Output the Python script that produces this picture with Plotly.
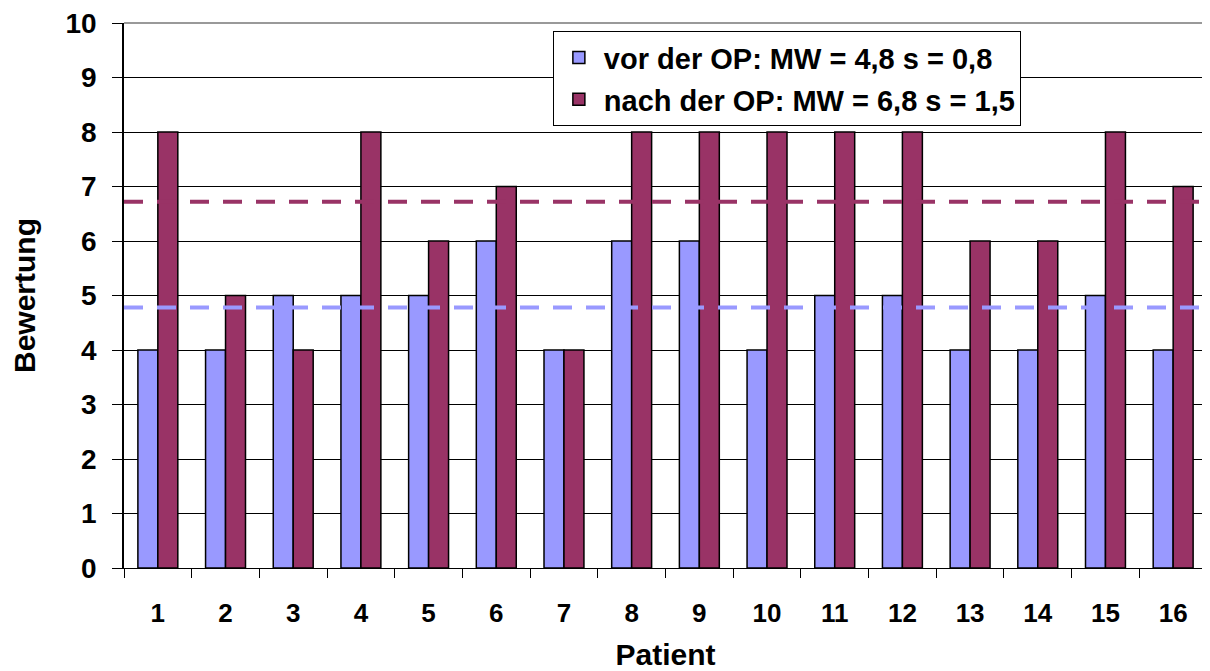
#! /usr/bin/env python3

import plotly.graph_objects as go

patients = [str(i) for i in range(1, 17)]
vorOP = [4, 4, 5, 5, 5, 6, 4, 6, 6, 4, 5, 5, 4, 4, 5, 4]
nachOP = [8, 5, 4, 8, 6, 7, 4, 8, 8, 8, 8, 8, 6, 6, 8, 7]

# Mittelwerte, wie sie im Bild als gestrichelte Linien stehen
meanVor = 4.78
meanNach = 6.72

legendNames = ["vor der OP: MW = 4,8 s = 0,8",
               "nach der OP: MW = 6,8 s = 1,5"]

blue = "#9999FF"
purple = "#993366"
font = "Liberation Sans, Arial, sans-serif"

fig = go.Figure()

fig.add_trace(go.Bar(
	x=patients,
	y=vorOP,
	name=legendNames[0],
	legendgroup="a",
	marker=dict(color=blue, line=dict(color="black", width=1.5))
	))

fig.add_trace(go.Bar(
	x=patients,
	y=nachOP,
	name=legendNames[1],
	legendgroup="b",
	marker=dict(color=purple, line=dict(color="black", width=1.5))
	))

for m, c in [(meanNach, purple), (meanVor, blue)]:
	fig.add_shape(type="line", xref="paper", x0=0, x1=1, yref="y", y0=m, y1=m,
		line=dict(color=c, width=4, dash="19px,14px"), layer="above")

# graue Kanten oben und rechts am Plotbereich
fig.add_shape(type="line", xref="paper", x0=1, x1=1, yref="paper", y0=0, y1=1,
	line=dict(color="#999999", width=2))
fig.add_shape(type="line", xref="paper", x0=0, x1=1, yref="paper", y0=1, y1=1,
	line=dict(color="#999999", width=2))

# page body has 8px margin -> sizes/margins shifted by 8
fig.update_layout(
	width=1199,
	height=663,
	margin=dict(l=116, r=0, t=15, b=103),
	plot_bgcolor="white",
	paper_bgcolor="white",
	barmode="group",
	bargap=0.41,
	bargroupgap=0,
	font=dict(family=font, color="black"),
	showlegend=True,
	legend=dict(
		x=0.396, y=0.985, xanchor="left", yanchor="top",
		bordercolor="black", borderwidth=1, bgcolor="white",
		font=dict(size=29, family=font, weight="bold"),
		tracegroupgap=1,
		itemwidth=40,
		),
	)

fig.update_xaxes(
	type="category",
	tickson="boundaries",
	ticks="outside", ticklen=9, tickcolor="black", tickwidth=1,
	showgrid=False,
	showline=True, linecolor="black", linewidth=1,
	tickfont=dict(size=26, family=font, weight="bold"),
	ticklabelstandoff=22,
	title=dict(text="Patient", font=dict(size=30, family=font, weight="bold"), standoff=18),
	)

fig.update_yaxes(
	range=[0, 10], tickvals=list(range(0, 11)),
	ticks="outside", ticklen=10, tickcolor="black", tickwidth=1,
	showgrid=True, gridcolor="black", gridwidth=1,
	showline=True, linecolor="black", linewidth=1.5,
	tickfont=dict(size=28, family=font, weight="bold"),
	ticklabelstandoff=10,
	ticklabeloverflow="allow",
	zeroline=False,
	title=dict(text="Bewertung", font=dict(size=30, family=font, weight="bold"), standoff=28),
	)

fig.write_html("out.html")
